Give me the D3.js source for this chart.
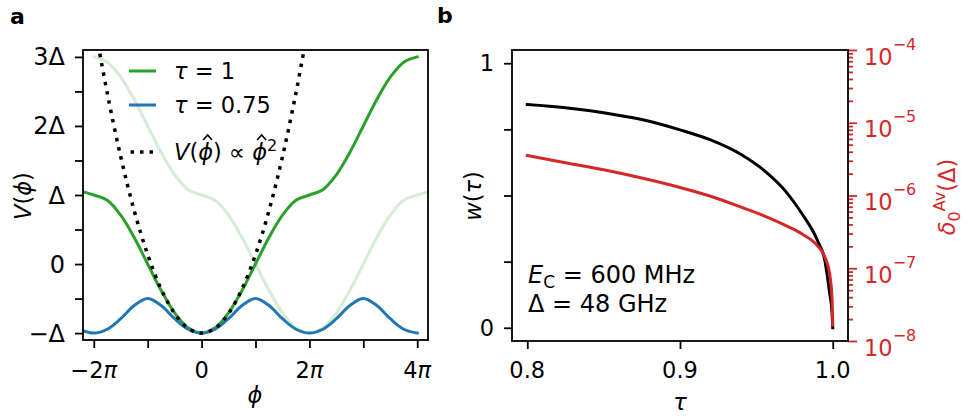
<!DOCTYPE html>
<html>
<head>
<meta charset="utf-8">
<script src="https://cdn.jsdelivr.net/npm/d3@7"></script>
<style>
body { margin: 0; background: #fff; }
svg text { font-family: "DejaVu Sans", sans-serif; }
</style>
</head>
<body>
<div id="canvas"></div>
<script>
// ---- panel a data (phi in units of pi) ----
const phi_pi = [-2.2, -2, -1.75, -1.5, -1.25, -1, -0.75, -0.5, -0.25, 0, 0.25, 0.5, 0.75, 1,
    1.25, 1.5, 1.75, 2, 2.25, 2.5, 2.75, 3, 3.25, 3.5, 3.75, 4, 4.2];
const v_tau1 = [1.049, 1, 0.924, 0.707, 0.383, 0, -0.383, -0.707, -0.924, -1, -0.924, -0.707, -0.383, 0,
    0.383, 0.707, 0.924, 1, 1.076, 1.293, 1.617, 2, 2.383, 2.707, 2.924, 3, null];
const v_tau1_shift = [null, 3, 2.924, 2.707, 2.383, 2, 1.617, 1.293, 1.076, 1, 0.924, 0.707, 0.383, 0,
    -0.383, -0.707, -0.924, -1, -0.924, -0.707, -0.383, 0, 0.383, 0.707, 0.924, 1, 1.049];
const v_tau075 = [-0.964, -1, -0.944, -0.791, -0.6, -0.5, -0.6, -0.791, -0.944, -1, -0.944, -0.791, -0.6, -0.5,
    -0.6, -0.791, -0.944, -1, -0.944, -0.791, -0.6, -0.5, -0.6, -0.791, -0.944, -1, null];
const phi_harm = [-1.95, -1.75, -1.5, -1.25, -1, -0.75, -0.5, -0.25, 0, 0.25, 0.5, 0.75, 1, 1.25, 1.5, 1.75, 1.95];
const v_harm = [3.316, 2.476, 1.554, 0.773, 0.135, -0.362, -0.716, -0.929, -1, -0.929, -0.716, -0.362, 0.135, 0.773, 1.554, 2.476, 3.316];

const a_xticks = [-2, -1, 0, 1, 2, 3, 4];
const a_xlabels = ['−2π', '', '0', '', '2π', '', '4π'];
const a_yticks = [-1, -0.5, 0, 0.5, 1, 1.5, 2, 2.5, 3];
const a_ylabels = ['−Δ', '', '0', '', 'Δ', '', '2Δ', '', '3Δ'];

// ---- panel b data ----
const tau = [0.8, 0.825, 0.85, 0.875, 0.9, 0.92, 0.94, 0.955, 0.97, 0.98, 0.99, 0.995, 0.998, 0.9995, 1.0];
const w_tau = [0.844, 0.832, 0.813, 0.787, 0.748, 0.71, 0.655, 0.595, 0.51, 0.43, 0.33, 0.25, 0.13, 0.06, 0];
const delta_av = [3.55e-6, 2.82e-6, 2.26e-6, 1.74e-6, 1.29e-6, 9.77e-7, 6.92e-7, 5.25e-7, 3.8e-7, 2.95e-7,
    2.04e-7, 1.41e-7, 8.3e-8, 3.98e-8, 1.66e-8];

const b_xticks = [0.8, 0.9, 1.0];
const b_xlabels = ['0.8', '0.9', '1.0'];
const b_yticks = [0, 0.25, 0.5, 0.75, 1];
const b_ylabels = ['0', '', '', '', '1'];
const b_rexp = [-8, -7, -6, -5, -4];

const GREEN = '#2ca02c', BLUE = '#1f77b4', RED = '#d62728';
const FS = 22.5, FS_SMALL = 16;
const ITAL = /[πϕτδVwE]/;

const svg = d3.select('#canvas')
    .append('svg')
    .attr('width', 975)
    .attr('height', 416);

// text with italic math letters; parts are strings or {t, sub, sup, size, hat}
function mathText(g, x, y, parts, opts = {}) {
    const t = g.append('text').attr('x', x).attr('y', y)
        .attr('font-size', opts.size || FS)
        .attr('text-anchor', opts.anchor || 'start')
        .attr('fill', opts.color || '#000');
    if (opts.transform) t.attr('transform', opts.transform);
    let shift = 0;
    const hats = [];
    parts.forEach(p => {
        if (typeof p === 'string') p = { t: p };
        const target = p.sup ? -p.sup : p.sub ? p.sub : 0;
        const dy = target - shift;
        shift = target;
        const runs = p.t.match(/[πϕτδVwE]+|[^πϕτδVwE]+/g) || [];
        runs.forEach((r, i) => {
            const ts = t.append('tspan').text(r);
            if (ITAL.test(r[0])) ts.attr('font-style', 'italic');
            if (p.size) ts.attr('font-size', p.size);
            if (i === 0 && dy !== 0) ts.attr('dy', dy);
            if (p.hat) hats.push(ts);
        });
    });
    // hats drawn as small chevrons above the glyph
    hats.forEach(ts => {
        const r = ts.node().getExtentOfChar(0);
        const cx = r.x + r.width / 2 + 2;
        g.append('path')
            .attr('d', d3.line()([[cx - 4.5, y - 19.5], [cx, y - 24.5], [cx + 4.5, y - 19.5]]))
            .attr('fill', 'none')
            .attr('stroke', opts.color || '#000')
            .attr('stroke-width', 1.6);
    });
    return t;
}

// ================= panel a =================
const xa = d3.scaleLinear().domain([-2.2, 4.2]).range([83, 428]);
const ya = d3.scaleLinear().domain([-1.1, 3.1]).range([340, 50]);
const ga = svg.append('g');

ga.append('clipPath').attr('id', 'clipa')
    .append('rect').attr('x', 83).attr('y', 50).attr('width', 345).attr('height', 290);

const lineA = (ys) => d3.line()
    .defined((d, i) => ys[i] !== null)
    .x(d => xa(d))
    .y((d, i) => ya(ys[i]))
    .curve(d3.curveCatmullRom);

const plotA = ga.append('g').attr('clip-path', 'url(#clipa)');
plotA.append('path').attr('d', lineA(v_tau1_shift)(phi_pi))
    .attr('fill', 'none').attr('stroke', GREEN).attr('stroke-opacity', 0.2)
    .attr('stroke-width', 3).attr('stroke-linecap', 'square');
plotA.append('path').attr('d', lineA(v_tau1)(phi_pi))
    .attr('fill', 'none').attr('stroke', GREEN)
    .attr('stroke-width', 3).attr('stroke-linecap', 'square');
plotA.append('path').attr('d', lineA(v_tau075)(phi_pi))
    .attr('fill', 'none').attr('stroke', BLUE)
    .attr('stroke-width', 3).attr('stroke-linecap', 'square');
plotA.append('path').attr('d', lineA(v_harm)(phi_harm))
    .attr('fill', 'none').attr('stroke', '#000')
    .attr('stroke-width', 3.5).attr('stroke-dasharray', '3.5,6');

// axes a
ga.append('g').attr('transform', 'translate(0,340)')
    .call(d3.axisBottom(xa).tickValues(a_xticks).tickSize(8).tickFormat(''))
    .call(g => g.select('.domain').remove())
    .call(g => g.selectAll('line').attr('stroke-width', 1.8));
ga.append('g').attr('transform', 'translate(83,0)')
    .call(d3.axisLeft(ya).tickValues(a_yticks).tickSize(8).tickFormat(''))
    .call(g => g.select('.domain').remove())
    .call(g => g.selectAll('line').attr('stroke-width', 1.8));
ga.append('rect').attr('x', 83).attr('y', 50).attr('width', 345).attr('height', 290)
    .attr('fill', 'none').attr('stroke', '#000').attr('stroke-width', 1.8);

a_xticks.forEach((v, i) => {
    if (a_xlabels[i]) mathText(ga, xa(v), 378, [a_xlabels[i]], { anchor: 'middle' });
});
a_yticks.forEach((v, i) => {
    if (a_ylabels[i]) mathText(ga, 65, ya(v) + 8.5, [a_ylabels[i]], { anchor: 'end', size: 24 });
});
mathText(ga, 255, 403, ['ϕ'], { anchor: 'middle' });
mathText(ga, 0, 0, ['V(ϕ)'], { anchor: 'middle', transform: 'translate(31,196) rotate(-90)' });

// legend
const legend = [
    { label: ['τ = 1'], color: GREEN, dash: null, y: 71 },
    { label: ['τ = 0.75'], color: BLUE, dash: null, y: 105 },
    { label: ['V(', { t: 'ϕ', hat: true }, ') ∝ ', { t: 'ϕ', hat: true }, { t: '2', sup: 9, size: FS_SMALL }],
        color: '#000', dash: '3.5,6', y: 152 }
];
legend.forEach(l => {
    const ln = ga.append('line').attr('x1', 130.5).attr('x2', 154.5).attr('y1', l.y).attr('y2', l.y)
        .attr('stroke', l.color).attr('stroke-width', l.dash ? 3.5 : 3);
    if (l.dash) ln.attr('stroke-dasharray', l.dash);
    else ln.attr('stroke-linecap', 'square');
    mathText(ga, 174, l.y + 7.5, l.label);
});

svg.append('text').attr('x', 10).attr('y', 24).attr('font-weight', 'bold').attr('font-size', 22).text('a');

// ================= panel b =================
const xb = d3.scaleLinear().domain([0.79, 1.01]).range([512, 848]);
const yb = d3.scaleLinear().domain([-0.05, 1.05]).range([341, 50]);
const yr = d3.scaleLog().domain([1e-8, 1e-4]).range([341, 50]);
const gb = svg.append('g');

gb.append('path').attr('d', d3.line().x(d => xb(d)).y((d, i) => yb(w_tau[i])).curve(d3.curveMonotoneX)(tau))
    .attr('fill', 'none').attr('stroke', '#000').attr('stroke-width', 3).attr('stroke-linecap', 'square');
gb.append('path').attr('d', d3.line().x(d => xb(d)).y((d, i) => yr(delta_av[i])).curve(d3.curveMonotoneX)(tau))
    .attr('fill', 'none').attr('stroke', RED).attr('stroke-width', 3).attr('stroke-linecap', 'square');

gb.append('g').attr('transform', 'translate(0,341)')
    .call(d3.axisBottom(xb).tickValues(b_xticks).tickSize(8).tickFormat(''))
    .call(g => g.select('.domain').remove())
    .call(g => g.selectAll('line').attr('stroke-width', 1.8));
gb.append('g').attr('transform', 'translate(512,0)')
    .call(d3.axisLeft(yb).tickValues(b_yticks).tickSize(8).tickFormat(''))
    .call(g => g.select('.domain').remove())
    .call(g => g.selectAll('line').attr('stroke-width', 1.8));
gb.append('g').attr('transform', 'translate(848,0)')
    .call(d3.axisRight(yr).tickValues(yr.ticks()).tickSize(8).tickFormat(''))
    .call(g => g.select('.domain').remove())
    .call(g => g.selectAll('line').attr('stroke', RED).attr('stroke-width', 1.8)
        .attr('x2', d => Math.abs(Math.log10(d) - Math.round(Math.log10(d))) < 1e-6 ? 9 : 5));
gb.append('rect').attr('x', 512).attr('y', 50).attr('width', 336).attr('height', 291)
    .attr('fill', 'none').attr('stroke', '#000').attr('stroke-width', 1.8);

b_xticks.forEach((v, i) => mathText(gb, xb(v), 378, [b_xlabels[i]], { anchor: 'middle' }));
b_yticks.forEach((v, i) => {
    if (b_ylabels[i]) mathText(gb, 494, yb(v) + 8, [b_ylabels[i]], { anchor: 'end' });
});
b_rexp.forEach(e => {
    mathText(gb, 864, yr(Math.pow(10, e)) + 14.5, ['10', { t: '−' + (-e), sup: 15, size: FS_SMALL }], { color: RED });
});
mathText(gb, 680, 410, ['τ'], { anchor: 'middle' });
mathText(gb, 0, 0, ['w(τ)'], { anchor: 'middle', transform: 'translate(481,196) rotate(-90)' });
mathText(gb, 0, 0, ['δ', { t: '0', sub: 5, size: FS_SMALL }, { t: 'Av', sup: 10, size: FS_SMALL }, '(Δ)'],
    { anchor: 'middle', color: RED, transform: 'translate(955,197) rotate(-90)' });

mathText(gb, 528, 283, ['E', { t: 'C', sub: 4.5, size: 17 }, ' = 600 MHz'], { size: 24 });
mathText(gb, 528, 312, ['Δ = 48 GHz'], { size: 24 });

svg.append('text').attr('x', 437).attr('y', 23).attr('font-weight', 'bold').attr('font-size', 22).text('b');
</script>
</body>
</html>
